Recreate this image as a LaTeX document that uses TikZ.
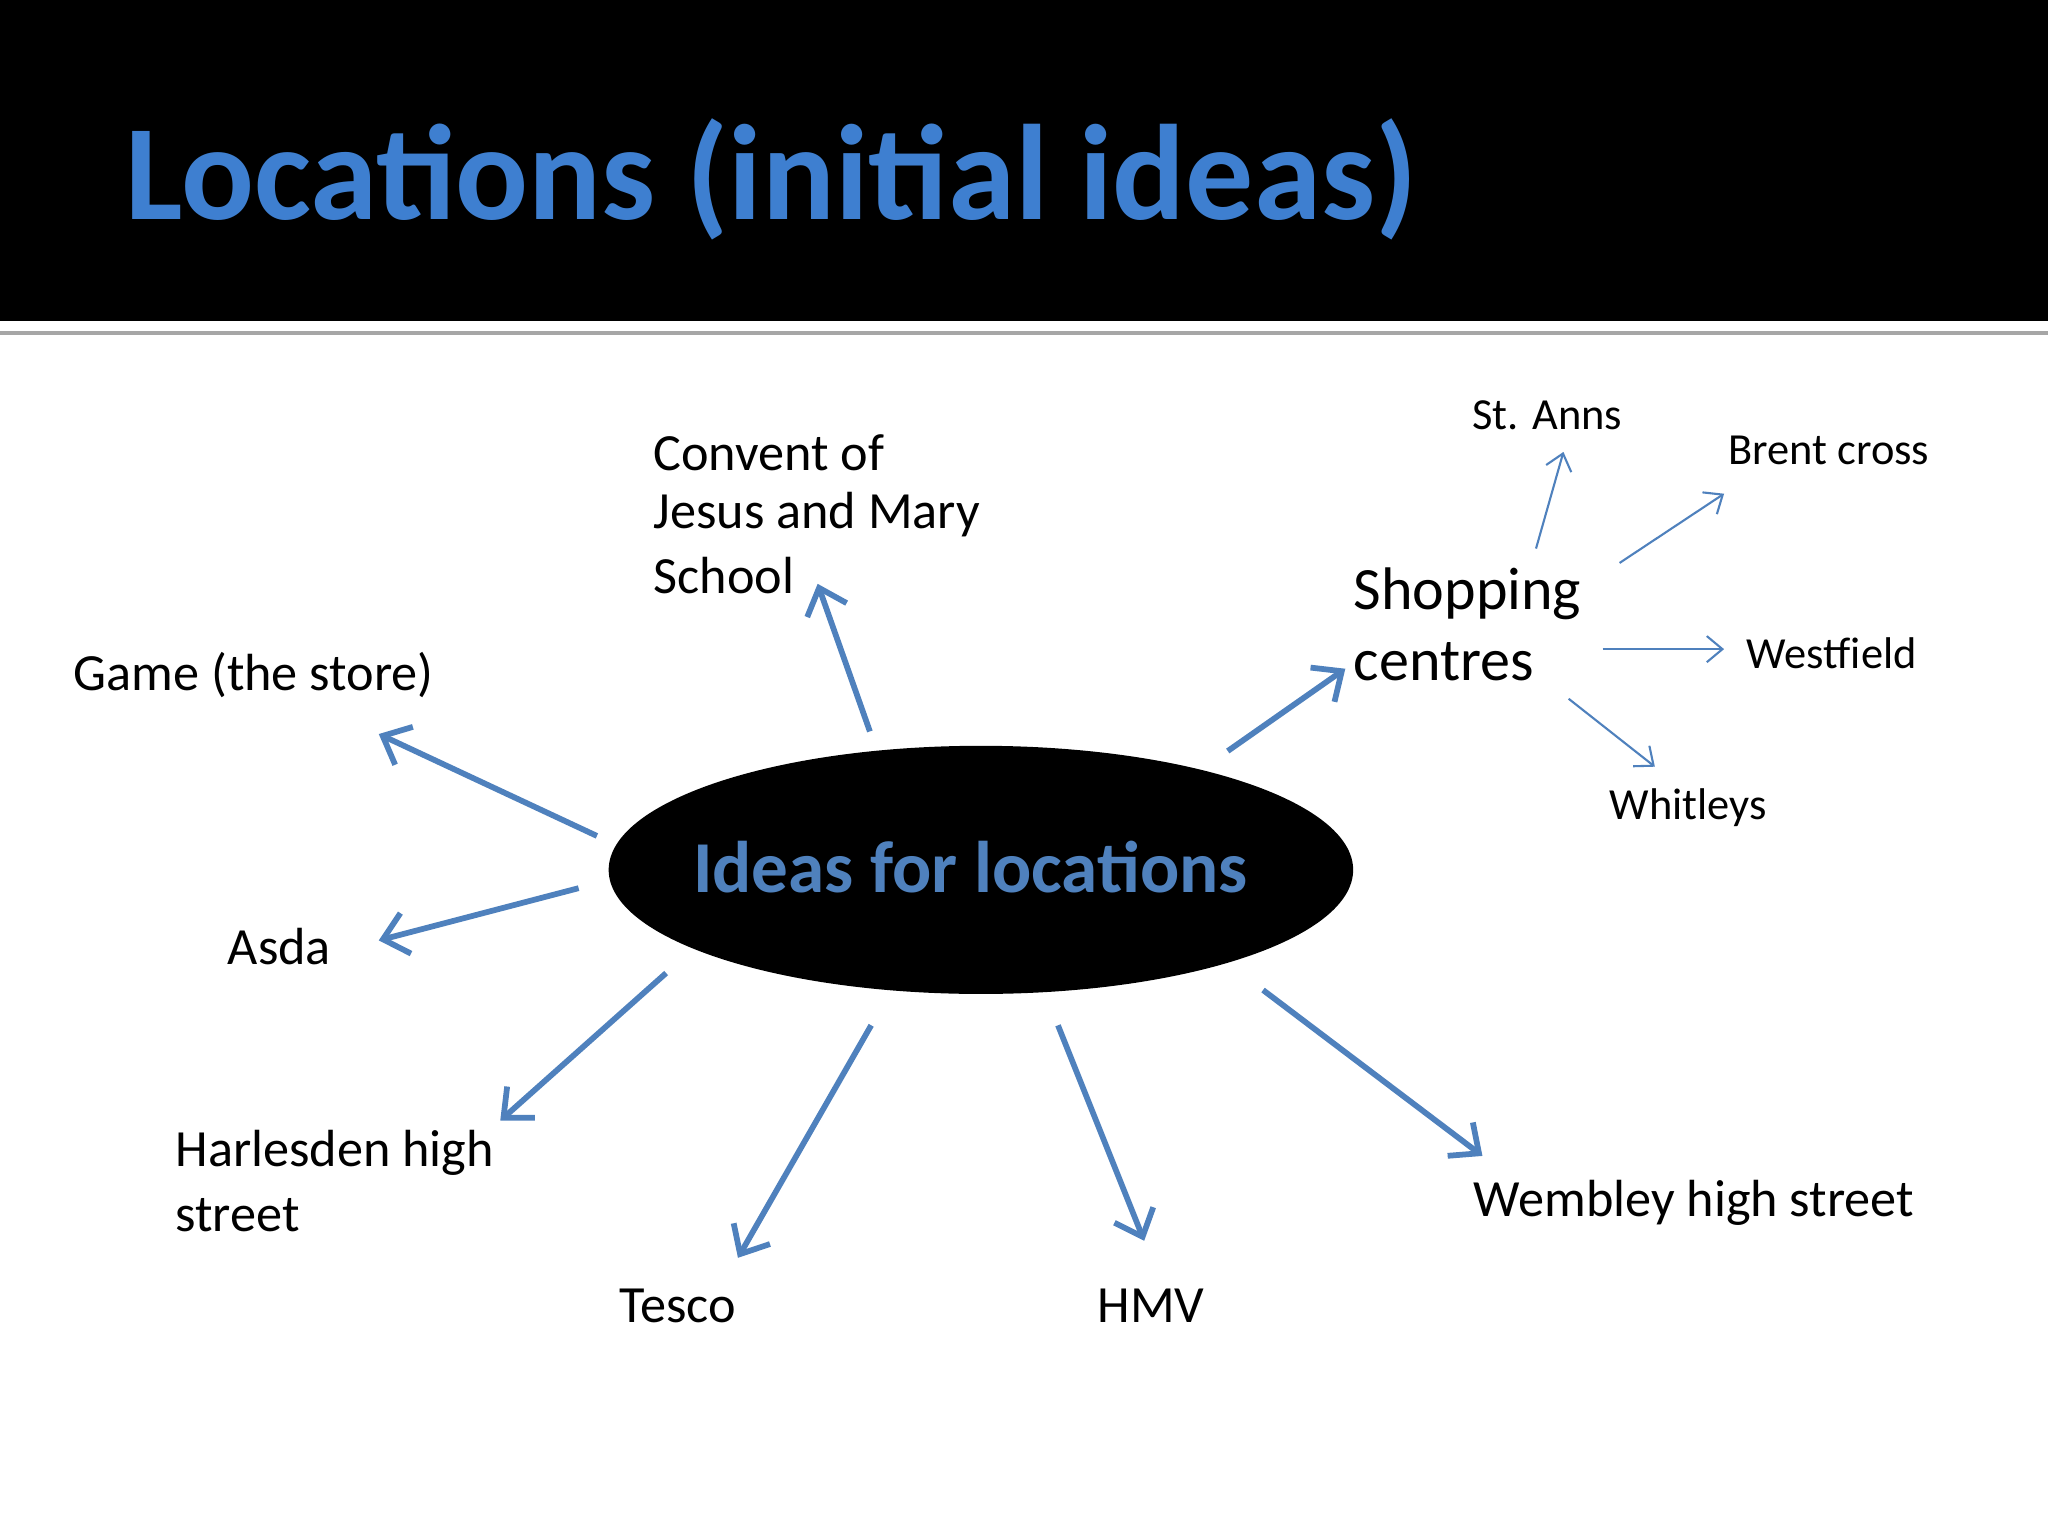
\documentclass[tikz,border=0pt]{standalone}
\usepackage{fontspec}
\setmainfont{Carlito}
\usetikzlibrary{arrows.meta,shapes.geometric}
\definecolor{ablue}{HTML}{4F81BD}
\definecolor{tblue}{HTML}{3E7FD0}
\tikzset{
  big/.style={draw=ablue,line width=2.2pt,-{Straight Barb[length=9pt,width=16pt,line width=2.2pt]}},
  thin/.style={draw=ablue,line width=0.8pt,-{Straight Barb[length=6pt,width=10pt]}},
  lbl/.style={anchor=west,font=\fontsize{20}{24}\selectfont,inner sep=0pt},
  sml/.style={anchor=west,font=\fontsize{17}{20}\selectfont,inner sep=0pt}
}
\begin{document}
\begin{tikzpicture}[x=0.5pt,y=-0.5pt]
\useasboundingbox (0,0) rectangle (1568,1176);
\fill[white] (0,0) rectangle (1568,1176);
\fill[black] (0,0) rectangle (1568,246);
\draw[gray!70,line width=1.2pt] (0,255) -- (1568,255);
\node[anchor=west,inner sep=0pt,text=tblue,font=\fontsize{52}{60}\selectfont\bfseries] (title) at (96,137) {Locations (initial ideas)};
\node[ellipse,fill=black,minimum width=285pt,minimum height=95pt,inner sep=0pt] (c) at (751,666) {};
\node[text=ablue,font=\fontsize{28}{32}\selectfont\bfseries] (ct) at (743,664) {Ideas for locations};
\node[lbl] (cv1) at (500,347) {Convent of};
\node[lbl] (cv2) at (500,394) {Jesus and Mary};
\node[lbl] (cv3) at (500,441) {School};
\node[lbl] (game) at (56,517) {Game (the store)};
\node[lbl] (asda) at (174,725) {Asda};
\node[lbl] (h1) at (134,883) {Harlesden high};
\node[lbl] (h2) at (134,930) {street};
\node[lbl] (tesco) at (474,1000) {Tesco};
\node[lbl] (hmv) at (840,1000) {HMV};
\node[lbl] (wem) at (1128,921) {Wembley high street};
\node[anchor=west,inner sep=0pt,font=\fontsize{23}{28}\selectfont] (s1) at (1036,455) {Shopping};
\node[anchor=west,inner sep=0pt,font=\fontsize{23}{28}\selectfont] (s2) at (1036,507) {centres};
\node[sml] (st) at (1127,318) {St. Anns};
\node[sml] (br) at (1323,345) {Brent cross};
\node[sml] (wf) at (1337,500) {Westfield};
\node[sml] (wh) at (1232,618) {Whitleys};
\coordinate (a1s) at (666,560); \coordinate (a1e) at (626,447);
\coordinate (a2s) at (457,640); \coordinate (a2e) at (290,562);
\coordinate (a3s) at (443,680); \coordinate (a3e) at (290,720);
\coordinate (a4s) at (510,745); \coordinate (a4e) at (383,858);
\coordinate (a5s) at (667,785); \coordinate (a5e) at (565,963);
\coordinate (a6s) at (810,785); \coordinate (a6e) at (876,950);
\coordinate (a7s) at (967,758); \coordinate (a7e) at (1135,885);
\coordinate (a8s) at (940,575); \coordinate (a8e) at (1030,512);
\foreach \k in {1,...,8} {\draw[big] (a\k s) -- (a\k e);}
\coordinate (b1s) at (1176,420); \coordinate (b1e) at (1197,346);
\coordinate (b2s) at (1240,431); \coordinate (b2e) at (1320,378);
\coordinate (b3s) at (1227,497); \coordinate (b3e) at (1320,497);
\coordinate (b4s) at (1201,535); \coordinate (b4e) at (1267,587);
\foreach \k in {1,...,4} {\draw[thin] (b\k s) -- (b\k e);}
\end{tikzpicture}
\end{document}
